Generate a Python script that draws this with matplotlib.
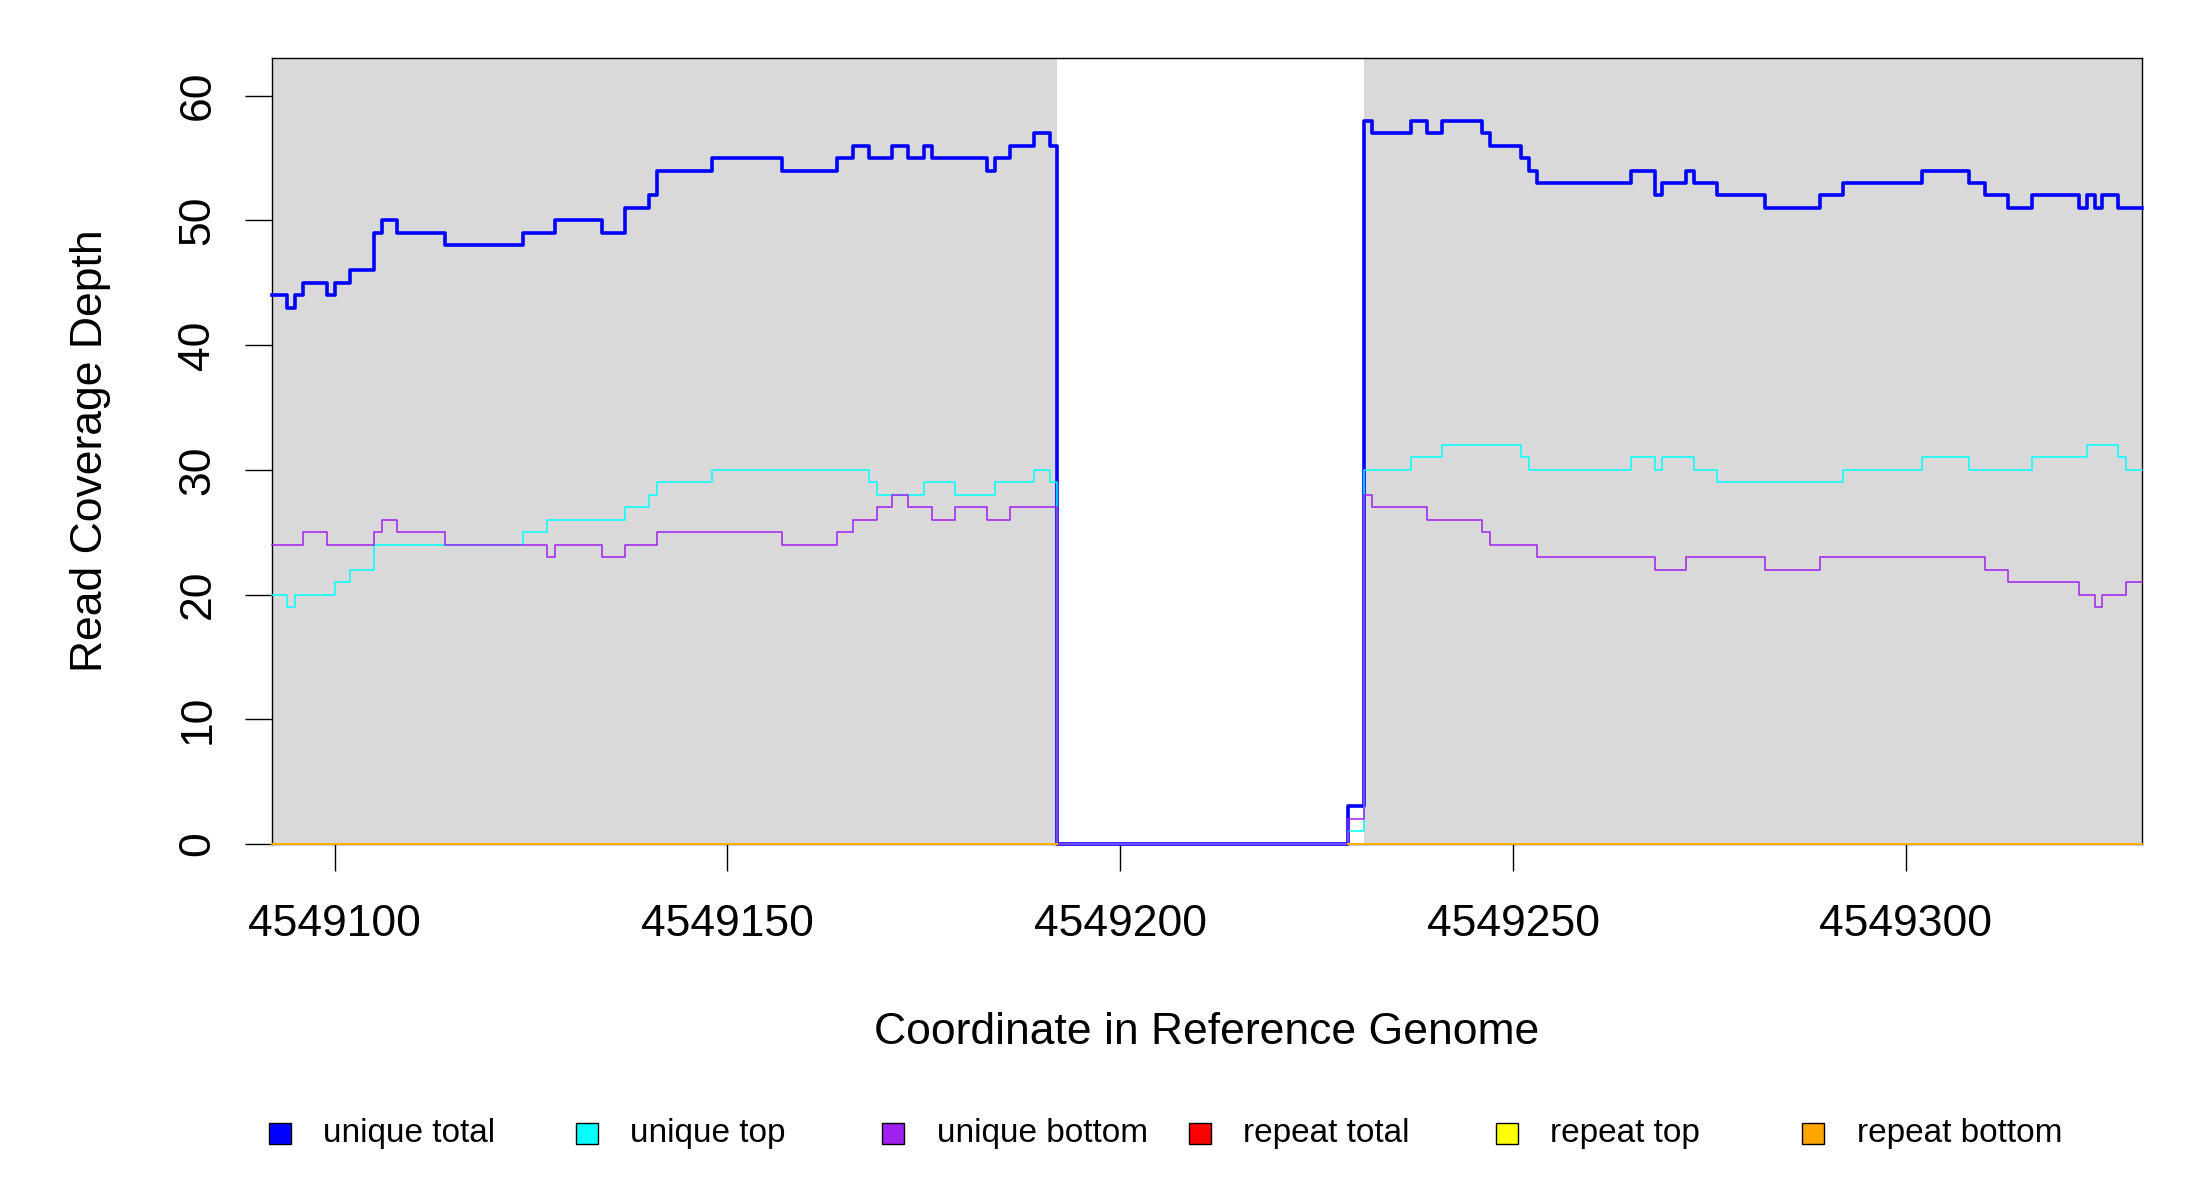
import numpy as np
import matplotlib
matplotlib.use('Agg')
import matplotlib.pyplot as plt
from matplotlib.patches import Rectangle

plt.rcParams['font.family'] = ['Liberation Sans', 'DejaVu Sans']

# 覆盖深度数据：阶梯变化点（参考基因组坐标）及该点起的深度
total_pos = [4549092, 4549094, 4549095, 4549096, 4549099, 4549100, 4549102, 4549105, 4549106,
             4549108, 4549114, 4549124, 4549128, 4549134, 4549137, 4549140, 4549141, 4549148,
             4549157, 4549164, 4549166, 4549168, 4549171, 4549173, 4549175, 4549176, 4549183,
             4549184, 4549186, 4549189, 4549191, 4549192, 4549229, 4549231, 4549232, 4549237,
             4549239, 4549241, 4549246, 4549247, 4549251, 4549252, 4549253, 4549265, 4549268,
             4549269, 4549272, 4549273, 4549276, 4549282, 4549289, 4549292, 4549302, 4549308,
             4549310, 4549313, 4549316, 4549322, 4549323, 4549324, 4549325, 4549327]
total_val = [44, 43, 44, 45, 44, 45, 46, 49, 50,
             49, 48, 49, 50, 49, 51, 52, 54, 55,
             54, 55, 56, 55, 56, 55, 56, 55, 54,
             55, 56, 57, 56, 0, 3, 58, 57, 58,
             57, 58, 57, 56, 55, 54, 53, 54, 52,
             53, 54, 53, 52, 51, 52, 53, 54, 53,
             52, 51, 52, 51, 52, 51, 52, 51]

top_pos = [4549092, 4549094, 4549095, 4549100, 4549102, 4549105, 4549124, 4549127, 4549137,
           4549140, 4549141, 4549148, 4549168, 4549169, 4549175, 4549179, 4549184, 4549189,
           4549191, 4549192, 4549229, 4549231, 4549237, 4549241, 4549251, 4549252, 4549265,
           4549268, 4549269, 4549273, 4549276, 4549292, 4549302, 4549308, 4549316, 4549323,
           4549327, 4549328]
top_val = [20, 19, 20, 21, 22, 24, 25, 26, 27,
           28, 29, 30, 29, 28, 29, 28, 29, 30,
           29, 0, 1, 30, 31, 32, 31, 30, 31,
           30, 31, 30, 29, 30, 31, 30, 31, 32,
           31, 30]

bottom_pos = [4549092, 4549096, 4549099, 4549105, 4549106, 4549108, 4549114, 4549127, 4549128,
              4549134, 4549137, 4549141, 4549157, 4549164, 4549166, 4549169, 4549171, 4549173,
              4549176, 4549179, 4549183, 4549186, 4549192, 4549229, 4549231, 4549232, 4549239,
              4549246, 4549247, 4549253, 4549268, 4549272, 4549282, 4549289, 4549310, 4549313,
              4549322, 4549324, 4549325, 4549328]
bottom_val = [24, 25, 24, 25, 26, 25, 24, 23, 24,
              23, 24, 25, 24, 25, 26, 27, 28, 27,
              26, 27, 26, 27, 0, 2, 28, 27, 26,
              25, 24, 23, 22, 23, 22, 23, 22, 21,
              20, 19, 20, 21]

repeat_pos = [4549092, 4549192, 4549229]
repeat_val = [0, np.nan, 0]

end_pos = 4549330
region_start = [4549092, 4549231]
region_end = [4549192, 4549330]

names = ['unique total', 'unique top', 'unique bottom', 'repeat total', 'repeat top', 'repeat bottom']
colors = ['#0000FF', '#00FFFF', '#A020F0', '#FF0000', '#FFFF00', '#FFA500']
widths = [2.6, 1.1, 1.1, 1.1, 1.1, 1.1]
series = [(total_pos, total_val), (top_pos, top_val), (bottom_pos, bottom_val),
          (repeat_pos, repeat_val), (repeat_pos, repeat_val), (repeat_pos, repeat_val)]


def ext(pos, val):
    """阶梯图末端补齐"""
    return list(pos) + [end_pos], list(val) + [val[-1]]


W, H = 2200, 1200
fig = plt.figure(figsize=(22, 12), dpi=100)
ax = fig.add_axes([271.7 / W, 1 - 843.9 / H, 1870 / W, 785.6 / H])

for s, e in zip(region_start, region_end):  # 灰色区域
    ax.axvspan(s, e, color='#D9D9D9', lw=0, zorder=0)

for (p, v), c, lw in zip(series, colors, widths):
    x, y = ext(p, v)
    ax.step(x, y, where='post', color=c, lw=lw, zorder=2, clip_on=False)

ax.set_xlim(4549092, end_pos)
ax.set_ylim(0, 63)
ax.set_xticks([4549100, 4549150, 4549200, 4549250, 4549300])
ax.set_xticklabels(['4549100', '4549150', '4549200', '4549250', '4549300'])
ax.set_yticks([0, 10, 20, 30, 40, 50, 60])
ax.set_yticklabels(['0', '10', '20', '30', '40', '50', '60'], rotation=90, va='center')
ax.tick_params(axis='x', length=19.4, width=1, labelsize=32, pad=24)
ax.tick_params(axis='y', length=19.4, width=1, labelsize=32, pad=19)
for sp in ax.spines.values():
    sp.set_linewidth(1)
    sp.set_zorder(1)

fig.text(1206.7 / W, 1 - 1033 / H, 'Coordinate in Reference Genome', fontsize=32,
         ha='center', va='center')
fig.text(90.5 / W, 1 - 451 / H, 'Read Coverage Depth', fontsize=32, rotation=90,
         ha='center', va='center')

# 图例（底部一行）
for i, (n, c) in enumerate(zip(names, colors)):
    x0 = 268.8 + i * 306.7
    fig.patches.append(Rectangle((x0 / W, 1 - 1144 / H), 22 / W, 21 / H,
                                 transform=fig.transFigure, facecolor=c,
                                 edgecolor='black', lw=1))
    fig.text((x0 + 54.5) / W, 1 - 1133.5 / H, n, fontsize=24, ha='left', va='center')

fig.savefig('out.png', dpi=100)
